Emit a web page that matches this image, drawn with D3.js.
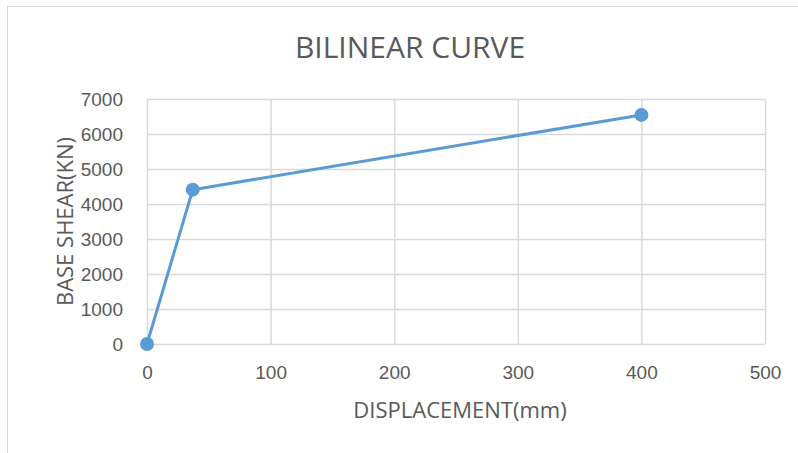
<!DOCTYPE html>
<html>
<head>
<meta charset="utf-8">
<script src="https://cdn.jsdelivr.net/npm/d3@7"></script>
<style>
  body { margin: 0; background: #fff; }
  svg { display: block; font-family: "Open Sans", "Liberation Sans", sans-serif; }
</style>
</head>
<body>
<svg id="chart" width="798" height="453"></svg>
<script>
// Bilinear capacity curve: displacement (mm) vs base shear (kN)
const displacement = [0, 37, 400];
const baseShear = [0, 4410, 6545];
const xTicks = [0, 100, 200, 300, 400, 500];
const yTicks = [0, 1000, 2000, 3000, 4000, 5000, 6000, 7000];

const svg = d3.select("#chart");
const W = 798, H = 453;
const plot = { left: 147, right: 765, top: 99, bottom: 344 };

// chart frame
svg.append("rect")
  .attr("x", 7.5).attr("y", 6.5)
  .attr("width", W).attr("height", H)
  .attr("fill", "#fff").attr("stroke", "#d9d9d9").attr("stroke-width", 1);

const x = d3.scaleLinear().domain([0, 500]).range([plot.left, plot.right]);
const y = d3.scaleLinear().domain([0, 7000]).range([plot.bottom, plot.top]);

// horizontal gridlines with value labels
const yAxis = d3.axisLeft(y).tickValues(yTicks).tickSize(-(plot.right - plot.left)).tickPadding(24).tickFormat(d3.format("d"));
const gy = svg.append("g").attr("transform", `translate(${plot.left},0)`).call(yAxis);
gy.select(".domain").remove();
gy.selectAll(".tick line").attr("stroke", "#d9d9d9").attr("stroke-width", 1.5);
gy.selectAll(".tick text").attr("fill", "#595959").style("font-size", "19px");

// vertical gridlines with value labels
const xAxis = d3.axisBottom(x).tickValues(xTicks).tickSize(-(plot.bottom - plot.top)).tickPadding(20).tickFormat(d3.format("d"));
const gx = svg.append("g").attr("transform", `translate(0,${plot.bottom})`).call(xAxis);
gx.select(".domain").remove();
gx.selectAll(".tick line").attr("stroke", "#d9d9d9").attr("stroke-width", 1.5);
gx.selectAll(".tick text").attr("fill", "#595959").style("font-size", "19px").attr("dy", null).attr("y", 35);

// title
svg.append("text")
  .attr("x", 410).attr("y", 57.5)
  .attr("text-anchor", "middle")
  .attr("fill", "#595959")
  .style("font-size", "30px")
  .text("BILINEAR CURVE");

// axis titles
svg.append("text")
  .attr("x", 460).attr("y", 418)
  .attr("text-anchor", "middle")
  .attr("fill", "#595959")
  .style("font-size", "22px")
  .text("DISPLACEMENT(mm)");

svg.append("text")
  .attr("transform", `translate(72.5,${(plot.top + plot.bottom) / 2}) rotate(-90)`)
  .attr("text-anchor", "middle")
  .attr("fill", "#595959")
  .style("font-size", "22px")
  .text("BASE SHEAR(KN)");

// curve
const pts = displacement.map((d, i) => [d, baseShear[i]]);
svg.append("path")
  .datum(pts)
  .attr("fill", "none")
  .attr("stroke", "#5b9bd5")
  .attr("stroke-width", 3)
  .attr("stroke-linejoin", "round")
  .attr("d", d3.line().x(d => x(d[0])).y(d => y(d[1])));

svg.selectAll("circle.pt")
  .data(pts)
  .enter().append("circle")
  .attr("class", "pt")
  .attr("cx", d => x(d[0]))
  .attr("cy", d => y(d[1]))
  .attr("r", 7)
  .attr("fill", "#5b9bd5");
</script>
</body>
</html>
